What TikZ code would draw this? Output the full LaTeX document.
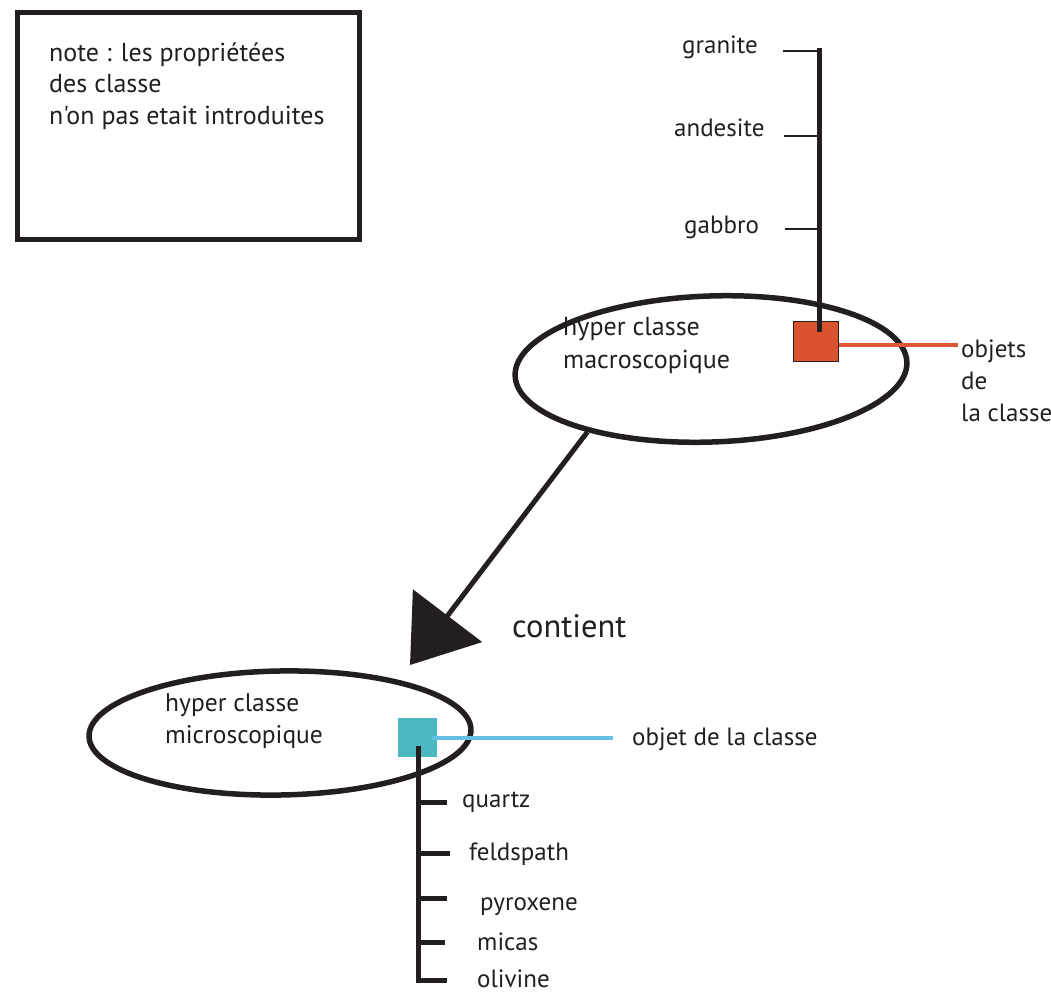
\documentclass[tikz,border=0pt]{standalone}
\usepackage{fontspec}
\setmainfont{PT Sans}[Ligatures=TeXOff]
\usetikzlibrary{shapes.geometric,arrows.meta}
\definecolor{rouge}{RGB}{217,83,47}
\definecolor{rougeline}{RGB}{222,88,52}
\definecolor{sarcelle}{RGB}{75,183,192}
\definecolor{bleuline}{RGB}{100,192,230}
\definecolor{encre}{RGB}{35,31,32}
\begin{document}
\begin{tikzpicture}[x=1pt,y=-1pt,
  lbl/.style={inner sep=0pt, anchor=west, font=\fontsize{25}{32}\selectfont, text=encre, align=left, text height=17pt, text depth=5pt},
  mlbl/.style={inner sep=0pt, anchor=west, font=\fontsize{25}{32}\selectfont, text=encre, align=left},
  heavy/.style={line width=5pt, draw=encre},
  thin tick/.style={line width=2.5pt, draw=encre},
  bigell/.style={draw=encre, ellipse, line width=5.5pt, inner sep=0pt},
]
\useasboundingbox (0,0) rectangle (1051,992);

% note box
\node[draw=encre, line width=5pt, minimum width=342pt, minimum height=227pt, anchor=north west, inner sep=0pt] (note) at (14.5,10.5) {};
\node[mlbl, font=\fontsize{26}{31.5}\selectfont] (notetxt) at (49,86) {note : les propriétées\\des classe\\n'on pas etait introduites};

% macro ellipse
\node[bigell, minimum width=392pt, minimum height=146pt, rotate=2] (macro) at (711,369) {};
\node[mlbl, font=\fontsize{26}{33}\selectfont] (macrotxt) at (563,345) {hyper classe\\macroscopique};

% orange square and object list
\node[draw=encre, line width=1pt, fill=rouge, minimum width=45pt, minimum height=40pt, inner sep=0pt] (osq) at (816,341) {};
\coordinate (vtop) at (819,48);
\coordinate (vbot) at (819,332);
\draw[heavy] (vtop) -- (vbot);
\node[lbl] (granite) at (682,48) {granite};
\node[lbl] (andesite) at (674,131) {andesite};
\node[lbl] (gabbro) at (684,228) {gabbro};
\coordinate (tg) at (819,51);
\coordinate (ta) at (819,136);
\coordinate (tb) at (819,229);
\draw[thin tick] (783,51) -- (tg);
\draw[thin tick] (784,136) -- (ta);
\draw[thin tick] (785,229) -- (tb);

\node[mlbl] (objets) at (961,381) {objets\\de\\la classe};
\coordinate (oe) at (958,345);
\draw[line width=4.5pt, draw=rougeline] (osq.east |- oe) -- (oe);

% arrow
\coordinate (tip) at (410,665);
\draw[heavy, -{Triangle[length=62pt,width=86pt]}] (macro.205) -- (tip);
\node[inner sep=0pt, anchor=west, font=\fontsize{32.5}{36}\selectfont, text=encre, text height=22pt, text depth=6pt] (contient) at (512,629) {contient};

% micro ellipse
\node[bigell, minimum width=382pt, minimum height=124pt, rotate=1] (micro) at (280,733) {};
\node[mlbl, font=\fontsize{25.5}{32}\selectfont] (microtxt) at (165,721) {hyper classe\\microscopique};

\node[fill=sarcelle, minimum width=39pt, minimum height=39pt, inner sep=0pt] (tsq) at (417.5,737.5) {};
\node[lbl] (odlc) at (632,739) {objet de la classe};
\coordinate (bs) at (432,738);
\coordinate (be) at (613,738);
\draw[line width=4.5pt, draw=bleuline] (bs) -- (be);

\coordinate (mtop) at (418,746);
\coordinate (mbot) at (418,983);
\draw[heavy] (mtop) -- (mbot);
\foreach \yy/\xe/\name/\lx/\ly in {802/447/quartz/462/801, 853/450/feldspath/469/854, 898/447/pyroxene/480/904, 942/445/micas/477/944, 980/447/olivine/477/981}{
  \draw[heavy] (418,\yy) -- (\xe,\yy);
  \node[lbl] (\name) at (\lx,\ly) {\name};
}
\end{tikzpicture}
\end{document}
